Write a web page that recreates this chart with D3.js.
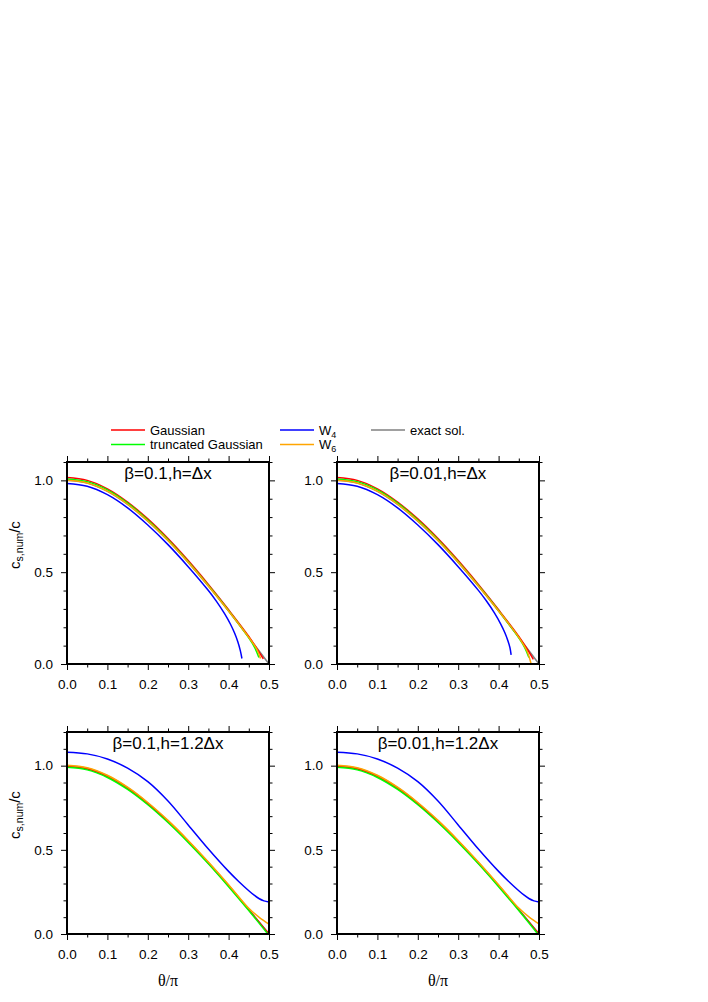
<!DOCTYPE html>
<html>
<head>
<meta charset="utf-8">
<script src="https://cdn.jsdelivr.net/npm/d3@7"></script>
<style>
  body { margin: 0; background: #fff; }
  svg text { font-family: "Liberation Sans", Arial, Helvetica, sans-serif; fill: #000; }
  .tick text { font-size: 13.5px; }
  .tick line { stroke: #000; stroke-width: 1; }
</style>
</head>
<body>
<svg id="chart" width="708" height="1002"></svg>
<script>
// ticks
const xMajor = [0, 0.1, 0.2, 0.3, 0.4, 0.5];
const xMinor = [0.05, 0.15, 0.25, 0.35, 0.45];
const yMajor = [0, 0.5, 1.0];
const yMinorTop = [0.1, 0.2, 0.3, 0.4, 0.6, 0.7, 0.8, 0.9, 1.1];
const yMinorBottom = [0.1, 0.2, 0.3, 0.4, 0.6, 0.7, 0.8, 0.9, 1.1, 1.2];

// legend
const legendNames = ["Gaussian", "truncated Gaussian", "W", "W", "exact sol."];
const legendSubs = ["", "", "4", "6", ""];
const legendColors = ["#ff0000", "#00ff00", "#0000ff", "#ffa500", "#808080"];

// panel titles
const titles = ["β=0.1,h=Δx", "β=0.01,h=Δx", "β=0.1,h=1.2Δx", "β=0.01,h=1.2Δx"];

// exact solution (same in every panel), [θ/π, c_s,num/c]
const exactSol = [[0, 1.0], [0.05, 0.985], [0.1, 0.94], [0.15, 0.869], [0.2, 0.778], [0.25, 0.672],
  [0.3, 0.553], [0.35, 0.424], [0.4, 0.288], [0.45, 0.145], [0.5, 0.0]];

// top left: beta=0.1, h=dx
const tlGauss = [[0, 1.015], [0.05, 1.0], [0.1, 0.954], [0.15, 0.882], [0.2, 0.79], [0.25, 0.683],
  [0.3, 0.563], [0.35, 0.433], [0.4, 0.295], [0.45, 0.15], [0.475, 0.066], [0.486, 0.028]];
const tlTrunc = [[0, 1.008], [0.05, 0.993], [0.1, 0.948], [0.15, 0.876], [0.2, 0.784], [0.25, 0.677],
  [0.3, 0.557], [0.35, 0.427], [0.4, 0.29], [0.45, 0.142], [0.465, 0.088], [0.475, 0.035]];
const tlW4 = [[0, 0.983], [0.05, 0.968], [0.1, 0.922], [0.15, 0.85], [0.2, 0.757], [0.25, 0.65],
  [0.3, 0.53], [0.35, 0.4], [0.37, 0.341], [0.39, 0.274], [0.405, 0.215], [0.415, 0.167],
  [0.423, 0.12], [0.429, 0.073], [0.433, 0.03]];
const tlW6 = [[0, 1.0], [0.05, 0.986], [0.1, 0.941], [0.15, 0.87], [0.2, 0.779], [0.25, 0.673],
  [0.3, 0.554], [0.35, 0.425], [0.4, 0.289], [0.45, 0.145], [0.47, 0.08], [0.479, 0.03]];

// top right: beta=0.01, h=dx
const trGauss = [[0, 1.015], [0.05, 1.0], [0.1, 0.954], [0.15, 0.882], [0.2, 0.79], [0.25, 0.683],
  [0.3, 0.563], [0.35, 0.433], [0.4, 0.295], [0.45, 0.15], [0.475, 0.066], [0.486, 0.025]];
const trTrunc = [[0, 1.008], [0.05, 0.993], [0.1, 0.948], [0.15, 0.876], [0.2, 0.784], [0.25, 0.677],
  [0.3, 0.557], [0.35, 0.427], [0.4, 0.29], [0.45, 0.142], [0.465, 0.088], [0.475, 0.035]];
const trW4 = [[0, 0.983], [0.05, 0.968], [0.1, 0.922], [0.15, 0.85], [0.2, 0.757], [0.25, 0.65],
  [0.3, 0.53], [0.35, 0.401], [0.37, 0.343], [0.39, 0.277], [0.405, 0.219], [0.415, 0.173],
  [0.423, 0.127], [0.428, 0.09], [0.431, 0.05]];
const trW6 = [[0, 1.0], [0.05, 0.986], [0.1, 0.941], [0.15, 0.87], [0.2, 0.779], [0.25, 0.673],
  [0.3, 0.554], [0.35, 0.425], [0.4, 0.289], [0.45, 0.145], [0.47, 0.072], [0.48, 0.005]];

// bottom left: beta=0.1, h=1.2dx
const blGauss = [[0, 0.995], [0.05, 0.98], [0.1, 0.935], [0.15, 0.864], [0.2, 0.773], [0.25, 0.667],
  [0.3, 0.549], [0.35, 0.421], [0.4, 0.286], [0.45, 0.143], [0.5, 0.0]];
const blTrunc = [[0, 0.99], [0.05, 0.975], [0.1, 0.93], [0.15, 0.859], [0.2, 0.768], [0.25, 0.662],
  [0.3, 0.544], [0.35, 0.417], [0.4, 0.281], [0.45, 0.139], [0.497, 0.0]];
const blW4 = [[0, 1.08], [0.05, 1.07], [0.1, 1.04], [0.15, 0.985], [0.2, 0.905], [0.25, 0.79],
  [0.3, 0.648], [0.35, 0.505], [0.4, 0.372], [0.425, 0.312], [0.45, 0.257], [0.4625, 0.232],
  [0.475, 0.211], [0.4875, 0.197], [0.5, 0.19]];
const blW6 = [[0, 1.003], [0.05, 0.988], [0.1, 0.943], [0.15, 0.872], [0.2, 0.781], [0.25, 0.675],
  [0.3, 0.556], [0.35, 0.428], [0.4, 0.293], [0.45, 0.153], [0.475, 0.1], [0.5, 0.058]];

// bottom right: beta=0.01, h=1.2dx
const brGauss = [[0, 0.995], [0.05, 0.98], [0.1, 0.935], [0.15, 0.864], [0.2, 0.773], [0.25, 0.667],
  [0.3, 0.549], [0.35, 0.421], [0.4, 0.286], [0.45, 0.143], [0.5, 0.0]];
const brTrunc = [[0, 0.99], [0.05, 0.975], [0.1, 0.93], [0.15, 0.859], [0.2, 0.768], [0.25, 0.662],
  [0.3, 0.544], [0.35, 0.417], [0.4, 0.281], [0.45, 0.139], [0.497, 0.0]];
const brW4 = [[0, 1.08], [0.05, 1.07], [0.1, 1.04], [0.15, 0.985], [0.2, 0.905], [0.25, 0.79],
  [0.3, 0.648], [0.35, 0.505], [0.4, 0.372], [0.425, 0.312], [0.45, 0.257], [0.4625, 0.232],
  [0.475, 0.211], [0.4875, 0.197], [0.5, 0.19]];
const brW6 = [[0, 1.003], [0.05, 0.988], [0.1, 0.943], [0.15, 0.872], [0.2, 0.781], [0.25, 0.675],
  [0.3, 0.556], [0.35, 0.428], [0.4, 0.293], [0.45, 0.154], [0.475, 0.102], [0.5, 0.06]];

const svg = d3.select("#chart");
svg.append("rect").attr("width", 708).attr("height", 1002).attr("fill", "#fff");

const W = 202, H = 202;
const panels = [
    { left: 67, top: 462, ymax: 1.1, minor: yMinorTop, title: titles[0], ylab: true, xlab: false,
      series: [exactSol, tlGauss, tlTrunc, tlW4, tlW6] },
    { left: 337, top: 462, ymax: 1.1, minor: yMinorTop, title: titles[1], ylab: false, xlab: false,
      series: [exactSol, trGauss, trTrunc, trW4, trW6] },
    { left: 67, top: 732, ymax: 1.2, minor: yMinorBottom, title: titles[2], ylab: true, xlab: true,
      series: [exactSol, blGauss, blTrunc, blW4, blW6] },
    { left: 337, top: 732, ymax: 1.2, minor: yMinorBottom, title: titles[3], ylab: false, xlab: true,
      series: [exactSol, brGauss, brTrunc, brW4, brW6] },
];
// colours in drawing order: exact, Gaussian, truncated, W4, W6
const drawColors = ["#808080", "#ff0000", "#00ff00", "#0000ff", "#ffa500"];

const fmt = d3.format(".1f");
const noDomain = (g) => g.select(".domain").remove();

panels.forEach((p) => {
    const x = d3.scaleLinear().domain([0, 0.5]).range([p.left, p.left + W]);
    const y = d3.scaleLinear().domain([0, p.ymax]).range([p.top + H, p.top]);
    const g = svg.append("g");

    // ticks on all four sides
    g.append("g").attr("transform", `translate(0,${p.top + H})`)
        .call(d3.axisBottom(x).tickValues(xMajor).tickSize(6).tickPadding(9).tickFormat(fmt)).call(noDomain);
    g.append("g").attr("transform", `translate(0,${p.top + H})`)
        .call(d3.axisBottom(x).tickValues(xMinor).tickSize(3.5).tickFormat("")).call(noDomain);
    g.append("g").attr("transform", `translate(0,${p.top})`)
        .call(d3.axisTop(x).tickValues(xMajor).tickSize(6).tickFormat("")).call(noDomain);
    g.append("g").attr("transform", `translate(0,${p.top})`)
        .call(d3.axisTop(x).tickValues(xMinor).tickSize(3.5).tickFormat("")).call(noDomain);
    g.append("g").attr("transform", `translate(${p.left},0)`)
        .call(d3.axisLeft(y).tickValues(yMajor).tickSize(6).tickPadding(8).tickFormat(fmt)).call(noDomain);
    g.append("g").attr("transform", `translate(${p.left},0)`)
        .call(d3.axisLeft(y).tickValues(p.minor).tickSize(3.5).tickFormat("")).call(noDomain);
    g.append("g").attr("transform", `translate(${p.left + W},0)`)
        .call(d3.axisRight(y).tickValues(yMajor).tickSize(6).tickFormat("")).call(noDomain);
    g.append("g").attr("transform", `translate(${p.left + W},0)`)
        .call(d3.axisRight(y).tickValues(p.minor).tickSize(3.5).tickFormat("")).call(noDomain);

    const line = d3.line()
        .x((d) => x(d[0]))
        .y((d) => y(d[1]))
        .curve(d3.curveCatmullRom.alpha(0.5));

    g.selectAll("path.curve")
        .data(p.series)
        .enter()
        .append("path")
        .attr("class", "curve")
        .attr("d", line)
        .attr("fill", "none")
        .attr("stroke", (d, i) => drawColors[i])
        .attr("stroke-width", 1.5);

    g.append("rect")
        .attr("x", p.left).attr("y", p.top)
        .attr("width", W).attr("height", H)
        .attr("fill", "none").attr("stroke", "#000").attr("stroke-width", 2);

    g.append("text")
        .attr("x", p.left + W / 2).attr("y", p.top + 16.5)
        .attr("text-anchor", "middle").attr("font-size", 17)
        .text(p.title);

    if (p.ylab) {
        const t = g.append("text")
            .attr("transform", `translate(19.5,${p.top + 83}) rotate(-90)`)
            .attr("text-anchor", "middle").attr("font-size", 15);
        t.append("tspan").text("c");
        t.append("tspan").attr("font-size", 10.5).attr("dy", 3.5).text("s,num");
        t.append("tspan").attr("dy", -3.5).text("/c");
    }
    if (p.xlab) {
        g.append("text")
            .attr("x", p.left + W / 2).attr("y", 986)
            .attr("text-anchor", "middle").attr("font-size", 16)
            .style("font-family", "'Liberation Serif', 'Times New Roman', serif")
            .text("θ/π");
    }
});

// legend
const legX = [111, 111, 280, 280, 371];
const legY = [430, 444.5, 430, 444.5, 430];
const leg = svg.append("g");
legendNames.forEach((name, i) => {
    leg.append("line")
        .attr("x1", legX[i]).attr("x2", legX[i] + 34)
        .attr("y1", legY[i]).attr("y2", legY[i])
        .attr("stroke", legendColors[i]).attr("stroke-width", 1.5);
    const t = leg.append("text")
        .attr("x", legX[i] + 39).attr("y", legY[i] + 4.5)
        .attr("font-size", 13);
    t.append("tspan").text(name);
    if (legendSubs[i]) {
        t.append("tspan").attr("font-size", 9).attr("dy", 3).text(legendSubs[i]);
    }
});
</script>
</body>
</html>
